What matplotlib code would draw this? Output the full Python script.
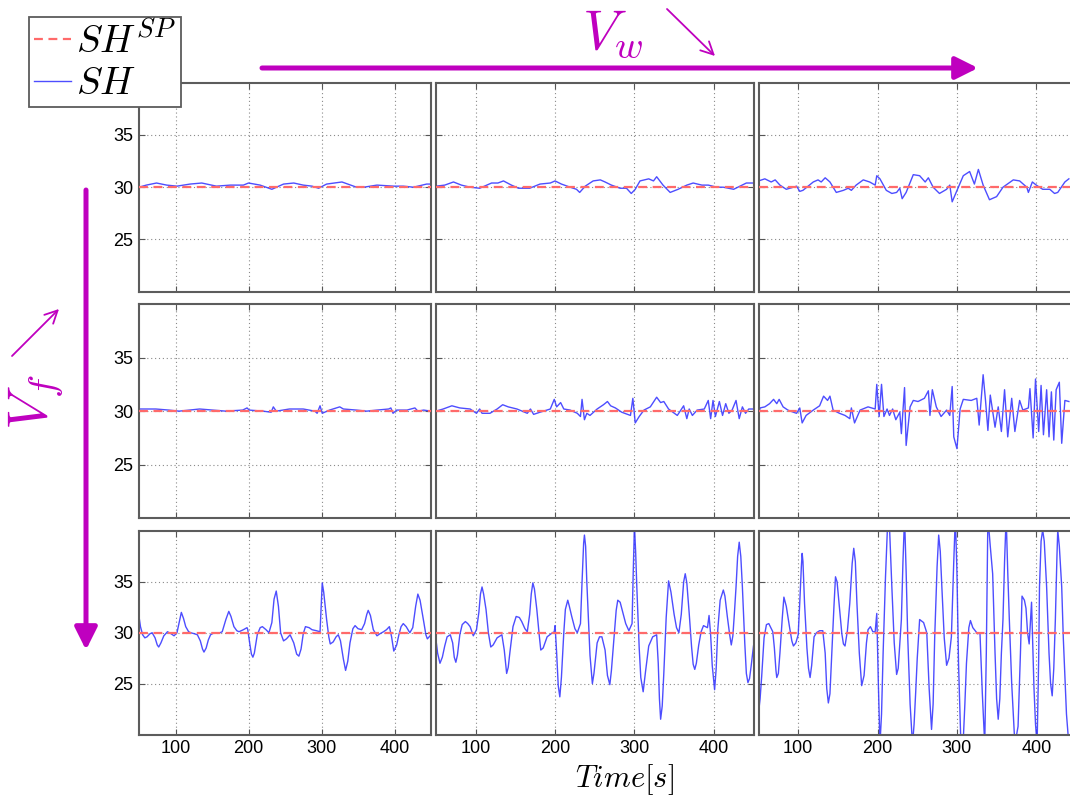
import numpy as np
import matplotlib
matplotlib.use('Agg')
import matplotlib.pyplot as plt

plt.rcParams['mathtext.fontset'] = 'cm'
plt.rcParams['font.family'] = ['Liberation Sans', 'DejaVu Sans']

# set point of superheat
SH_SP = 30.0

# row 0 (lowest V_f), columns from lowest to highest V_w
t_00 = [50, 60, 74, 88, 102, 120, 136, 156, 175, 193, 200, 216, 232, 248, 262, 275, 287, 296, 307, 328,
        348, 358, 376, 399, 412, 426, 444, 450]
sh_00 = [30.0, 30.2, 30.4, 30.2, 30.1, 30.3, 30.4, 30.1, 30.2, 30.2, 30.4, 30.2, 29.8, 30.3, 30.4, 30.2,
         30.1, 29.9, 30.3, 30.5, 30.0, 30.0, 30.2, 30.1, 30.1, 30.0, 30.3, 30.3]

t_01 = [50, 61, 72, 82, 93, 105, 120, 128, 135, 145, 154, 168, 181, 194, 200, 208, 219, 227, 231, 238,
        248, 257, 263, 271, 282, 290, 296, 301, 307, 318, 324, 328, 336, 345, 355, 366, 374, 385, 393, 404,
        412, 425, 433, 441, 449]
sh_01 = [30.1, 30.2, 30.5, 30.2, 30.0, 29.9, 30.4, 30.4, 30.6, 30.2, 29.9, 29.9, 30.3, 30.4, 30.6, 30.3,
         30.0, 29.8, 29.5, 30.1, 30.6, 30.7, 30.5, 30.2, 29.9, 29.9, 29.4, 29.8, 30.6, 30.8, 30.6, 31.0,
         30.2, 29.5, 29.8, 30.2, 30.4, 30.2, 30.2, 30.0, 30.0, 29.8, 30.1, 30.4, 30.4]

t_02 = [50, 58, 66, 71, 77, 85, 94, 98, 102, 106, 119, 125, 129, 134, 140, 148, 157, 163, 167, 173,
        182, 190, 197, 199, 203, 211, 218, 224, 228, 231, 236, 245, 253, 260, 264, 270, 278, 287, 291, 294,
        299, 308, 316, 322, 327, 333, 341, 350, 358, 371, 379, 388, 390, 395, 400, 408, 417, 423, 427, 436, 441]
sh_02 = [30.6, 30.8, 30.5, 30.7, 30.2, 29.8, 30.0, 30.1, 29.6, 29.7, 30.5, 30.7, 30.5, 30.9, 30.5, 29.5,
         29.7, 29.9, 29.7, 30.2, 30.7, 30.5, 30.2, 31.1, 30.8, 29.7, 29.4, 29.5, 29.9, 28.9, 29.5, 31.2,
         31.1, 30.5, 30.9, 30.0, 29.4, 29.8, 30.2, 28.6, 29.5, 31.1, 31.5, 30.3, 31.7, 30.2, 28.8, 29.1,
         30.0, 30.7, 30.6, 30.0, 29.5, 30.5, 30.2, 29.8, 29.8, 29.4, 29.5, 30.5, 30.8]

# row 1
t_10 = [50, 73, 91, 105, 133, 151, 169, 192, 198, 201, 220, 231, 234, 238, 256, 275, 291, 294, 298, 301,
        311, 325, 330, 348, 362, 376, 392, 395, 398, 403, 417, 428, 432, 440, 450]
sh_10 = [30.2, 30.2, 30.1, 30.0, 30.2, 30.1, 30.0, 30.1, 30.3, 30.1, 30.0, 29.9, 30.4, 30.0, 30.2, 30.2,
         30.0, 29.8, 30.5, 29.8, 30.1, 30.4, 30.2, 30.1, 30.0, 30.1, 30.2, 30.3, 29.8, 30.1, 30.1, 30.3,
         30.0, 30.1, 30.0]

t_11 = [50, 59, 70, 80, 93, 101, 105, 108, 118, 127, 134, 141, 152, 165, 169, 173, 181, 194, 199, 202,
        207, 211, 219, 228, 232, 234, 237, 240, 244, 253, 261, 266, 270, 276, 284, 295, 298, 301, 306, 312,
        320, 328, 333, 337, 343, 354, 362, 366, 369, 373, 379, 388, 393, 396, 399, 402, 407, 411, 415, 419,
        423, 428, 432, 436, 440, 444, 449]
sh_11 = [30.0, 30.2, 30.5, 30.3, 30.2, 29.8, 30.2, 29.8, 29.8, 30.2, 30.6, 30.4, 30.2, 29.8, 30.2, 29.7,
         29.9, 30.2, 31.1, 30.4, 30.8, 30.2, 30.1, 29.8, 29.5, 31.1, 29.2, 29.8, 29.6, 30.2, 30.6, 30.9,
         30.5, 30.3, 29.9, 29.6, 31.2, 28.9, 29.5, 30.1, 30.4, 31.3, 30.8, 30.9, 30.2, 29.6, 30.5, 29.3,
         30.2, 29.6, 30.1, 30.2, 31.0, 29.3, 31.0, 29.5, 30.9, 29.6, 30.7, 29.8, 30.1, 31.0, 29.3, 30.4,
         29.8, 30.2, 30.2]

t_12 = [50, 52, 58, 64, 69, 73, 76, 81, 87, 94, 98, 102, 105, 110, 119, 127, 132, 137, 140, 144,
        152, 159, 165, 167, 171, 178, 188, 197, 199, 202, 205, 208, 212, 215, 219, 223, 228, 230, 234, 236,
        241, 245, 251, 259, 264, 266, 269, 274, 280, 287, 291, 294, 296, 300, 304, 308, 318, 325, 328, 333,
        336, 339, 342, 348, 352, 356, 360, 364, 369, 373, 379, 383, 390, 392, 396, 399, 403, 406, 409, 413,
        416, 419, 422, 425, 429, 432, 436, 441]
sh_12 = [29.6, 30.3, 30.4, 30.7, 31.1, 30.7, 31.1, 30.4, 30.1, 29.9, 29.8, 30.3, 28.9, 29.6, 30.1, 30.5,
         31.4, 31.0, 31.4, 30.1, 29.8, 29.6, 29.3, 30.3, 28.9, 30.1, 30.4, 30.2, 32.5, 29.5, 32.5, 29.5,
         30.2, 29.6, 30.2, 29.2, 29.9, 27.9, 32.2, 26.8, 30.4, 31.0, 30.9, 31.2, 31.9, 29.6, 32.0, 30.4,
         29.5, 30.1, 29.6, 32.3, 27.6, 26.5, 30.2, 31.1, 31.0, 31.2, 28.7, 33.4, 31.0, 28.2, 31.5, 28.5,
         30.4, 28.1, 32.0, 27.6, 31.2, 28.1, 31.0, 30.1, 30.3, 32.1, 27.5, 33.0, 28.1, 32.4, 27.8, 32.0,
         27.6, 31.8, 27.3, 32.0, 32.7, 27.0, 31.0, 30.9]

# row 2 (highest V_f)
t_20 = [50, 52, 55, 58, 61, 65, 68, 72, 75, 77, 80, 84, 89, 94, 98, 102, 105, 108, 111, 114,
        118, 121, 126, 130, 134, 137, 139, 142, 145, 148, 153, 157, 161, 164, 169, 173, 176, 180, 184, 187,
        193, 198, 199, 202, 204, 206, 208, 212, 216, 219, 224, 228, 232, 235, 238, 241, 244, 248, 252, 257,
        262, 266, 269, 272, 275, 278, 283, 287, 293, 298, 299.5, 301, 303, 307, 310, 312, 316, 320, 323, 326,
        330, 333, 336, 339, 343, 346, 350, 355, 359, 362, 364, 367, 371, 376, 380, 385, 389, 393, 396, 399,
        403, 406, 409, 412, 416, 421, 425, 429, 432, 435, 440, 443, 445, 450]
sh_20 = [31.6, 30.6, 29.8, 29.5, 29.6, 29.9, 30.0, 29.5, 28.8, 28.6, 29.0, 29.7, 30.1, 29.9, 29.7, 30.0,
         31.0, 32.0, 31.4, 30.6, 30.1, 30.0, 29.9, 29.8, 29.2, 28.4, 28.1, 28.5, 29.3, 29.8, 30.0, 30.0,
         30.0, 30.1, 31.3, 32.1, 31.6, 30.6, 30.2, 30.1, 30.3, 30.5, 30.3, 28.8, 27.9, 27.6, 28.0, 29.8,
         30.5, 30.6, 30.3, 30.0, 31.0, 33.3, 34.1, 32.6, 30.0, 29.2, 29.4, 29.8, 29.0, 27.9, 27.7, 28.4,
         29.9, 30.6, 30.5, 30.3, 30.2, 30.1, 32.5, 34.9, 34.0, 31.3, 29.6, 28.9, 29.1, 29.6, 29.8, 29.2,
         27.4, 26.3, 27.2, 29.0, 30.4, 30.7, 30.4, 30.3, 30.9, 31.8, 32.2, 31.7, 30.3, 29.7, 29.9, 30.1,
         30.3, 30.6, 29.6, 28.2, 28.8, 29.8, 30.6, 30.9, 30.6, 30.0, 30.5, 32.6, 33.8, 33.2, 31.1, 29.8,
         29.4, 29.8]

t_21 = [50, 52, 55, 58, 61, 64, 68, 71, 73, 75, 77, 80, 83, 87, 90, 93, 97, 101, 104, 106,
        108, 110, 113, 116, 119, 122, 127, 133, 136, 139, 141, 143, 147, 151, 155, 158, 162, 165, 168, 170,
        172, 174, 177, 180, 182, 185, 190, 195, 199, 200, 202, 204, 206, 208, 211, 213, 216, 218, 221, 225,
        228, 232, 234, 236, 237, 238.5, 240, 242, 244, 247, 249, 253, 256, 259, 263, 266, 269, 271, 274, 277,
        279, 282, 285, 289, 293, 297, 298.5, 300, 301.5, 303, 306, 308, 311, 314, 318, 323, 328, 330, 331.5, 333,
        335, 337, 340, 343, 346, 350, 353, 356, 359, 362, 364, 366, 369, 372, 374, 376, 378, 381, 384, 387,
        392, 394, 396, 398, 401, 403, 405, 408, 412, 414, 417, 420, 422, 424, 426, 428, 430, 432, 434, 436,
        439, 441, 443, 445, 447, 450]
sh_21 = [29.3, 28.0, 27.0, 27.6, 28.7, 29.6, 29.8, 29.0, 27.6, 27.1, 27.8, 29.8, 30.8, 31.1, 30.9, 30.6,
         29.7, 30.3, 32.0, 33.8, 34.5, 33.8, 32.3, 30.0, 28.6, 28.8, 29.5, 29.8, 28.3, 26.0, 26.6, 28.0,
         30.6, 31.6, 31.5, 31.1, 30.4, 30.1, 31.8, 33.8, 34.9, 34.3, 32.3, 29.8, 28.3, 28.5, 29.6, 29.9,
         30.1, 30.7, 28.0, 24.8, 23.7, 25.6, 30.0, 32.3, 33.2, 32.6, 31.6, 30.4, 30.0, 30.9, 35.0, 38.8,
         39.6, 38.5, 35.0, 31.3, 27.8, 25.0, 26.0, 29.0, 29.6, 29.6, 28.3, 25.8, 24.9, 26.3, 29.3, 32.2,
         33.2, 33.0, 32.1, 30.9, 30.2, 30.9, 36.0, 40.5, 38.0, 34.5, 28.5, 25.6, 24.2, 26.2, 28.7, 29.6,
         29.8, 27.0, 23.5, 21.5, 22.8, 26.0, 31.5, 35.1, 34.0, 31.8, 30.5, 30.0, 31.8, 35.0, 35.8, 34.9,
         31.9, 28.6, 26.9, 26.4, 27.0, 28.8, 30.1, 30.7, 30.5, 31.7, 29.8, 26.8, 24.4, 26.5, 30.3, 33.2,
         34.2, 33.6, 31.6, 29.8, 28.8, 29.7, 32.0, 34.5, 37.5, 38.9, 37.5, 34.5, 29.0, 26.0, 25.1, 25.5,
         26.7, 28.7]

t_22 = [50, 52, 54, 57, 60, 63, 68, 70, 72, 73, 75, 77, 80, 82, 85, 89, 92, 94, 97, 100,
        102, 104, 105, 106, 108, 111, 113, 115, 117, 120, 123, 127, 131, 134, 136, 138, 140, 142, 145, 147,
        149, 152, 155, 157, 159, 162, 165, 168, 170, 172, 174, 177, 180, 183, 186, 188, 191, 194, 197, 199,
        201, 203, 205, 207, 210, 213, 215, 218, 221, 224, 226, 230, 232, 234, 236, 238, 241, 244, 246, 248,
        250, 253, 258, 262, 265, 268, 270, 272, 275, 277, 279, 281, 284, 287, 290, 293, 296, 298, 300, 302,
        305, 308, 310, 312, 315, 317, 320, 322, 326, 329, 332, 335, 337, 339, 342, 345, 348, 350, 352, 354,
        356, 358, 360, 362, 364, 366, 369, 373, 377, 380, 382, 385, 387, 389, 391, 394, 397, 399, 401, 403,
        404, 406, 408, 410, 413, 416, 418, 420, 422, 424, 426, 427, 429, 432, 434, 436, 438, 441]
sh_22 = [22.1, 23.5, 25.7, 29.5, 30.8, 30.9, 30.1, 28.5, 26.3, 25.6, 26.0, 28.0, 31.5, 33.5, 32.6, 30.6,
         29.2, 28.7, 29.0, 29.8, 33.0, 36.5, 37.8, 37.0, 32.9, 28.5, 26.5, 25.6, 26.8, 29.6, 30.0, 30.2,
         30.2, 28.0, 24.5, 23.1, 24.0, 27.4, 32.5, 35.5, 35.0, 32.4, 29.9, 28.9, 28.7, 30.2, 32.9, 36.8,
         38.3, 37.0, 32.9, 28.0, 24.8, 25.8, 29.0, 30.3, 30.6, 30.1, 30.1, 31.9, 25.0, 19.0, 22.0, 28.0,
         35.5, 41.4, 40.5, 34.5, 29.0, 25.9, 26.5, 31.3, 37.0, 41.4, 36.0, 29.6, 23.0, 19.0, 21.0, 24.1,
         27.5, 31.3, 31.0, 30.0, 24.5, 20.5, 23.0, 29.6, 36.5, 39.6, 38.0, 34.5, 29.5, 26.8, 27.5, 29.6,
         37.0, 41.4, 36.0, 27.0, 19.0, 19.5, 23.0, 27.0, 30.5, 31.2, 30.5, 30.3, 29.9, 30.0, 24.0, 19.0,
         28.0, 41.4, 38.5, 35.8, 28.0, 23.5, 21.5, 23.5, 28.0, 31.3, 37.0, 41.4, 36.0, 31.3, 25.0, 19.0,
         20.8, 28.0, 33.6, 33.2, 32.4, 30.0, 28.9, 33.0, 24.7, 21.0, 19.0, 27.5, 34.5, 39.0, 40.1, 39.0,
         34.5, 28.0, 25.0, 23.8, 26.5, 31.3, 37.5, 40.1, 38.5, 34.5, 29.5, 25.7, 22.0, 19.0]

times = [[t_00, t_01, t_02], [t_10, t_11, t_12], [t_20, t_21, t_22]]
shs = [[sh_00, sh_01, sh_02], [sh_10, sh_11, sh_12], [sh_20, sh_21, sh_22]]

x_ticks = [100, 200, 300, 400]
y_ticks = [25, 30, 35]

W, H = 1070., 800.
fig = plt.figure(figsize=(10.7, 8), dpi=100)

# panel edges in pixels (left, right) and (top, bottom)
cols = [(139, 431), (436, 753.5), (758.5, 1076)]
rows = [(82.7, 291.7), (304, 518.3), (531, 734.5)]

magenta = '#bf00bf'
handles = None
for i, (top, bot) in enumerate(rows):
    for j, (left, right) in enumerate(cols):
        ax = fig.add_axes([left / W, 1 - bot / H, (right - left) / W, (bot - top) / H])
        sp, = ax.plot([50, 450], [SH_SP, SH_SP], color='#ff6a6a', lw=1.6, ls=(0, (4, 2.5)), zorder=3)
        sh, = ax.plot(times[i][j], shs[i][j], color='#3a3aff', lw=1.0, alpha=0.9, zorder=2)
        if handles is None:
            handles = [sp, sh]
        ax.set_xlim(50, 450)
        ax.set_ylim(20, 40)
        ax.set_xticks(x_ticks)
        ax.set_yticks(y_ticks)
        ax.grid(True, color='#8a8a8a', lw=0.8, ls=(0, (1, 2.5)))
        ax.tick_params(direction='in', length=4, width=0.8, color='#555555', top=True, right=True,
                       labelsize=13, pad=4)
        if i != 2:
            ax.set_xticklabels([])
        if j != 0:
            ax.set_yticklabels([])
        for s in ax.spines.values():
            s.set_color('#5c5c5c')
            s.set_linewidth(1.5)

# overlay in pixel coordinates for the annotations
ov = fig.add_axes([0, 0, 1, 1], zorder=10)
ov.set_xlim(0, W)
ov.set_ylim(H, 0)
ov.axis('off')
ov.patch.set_alpha(0)

ov.annotate('', xy=(978, 68), xytext=(262, 68),
            arrowprops=dict(arrowstyle='-|>,head_length=0.9,head_width=0.45', lw=3.6, color=magenta,
                            mutation_scale=15, shrinkA=0, shrinkB=0))
ov.annotate('', xy=(86, 650), xytext=(86, 190),
            arrowprops=dict(arrowstyle='-|>,head_length=0.9,head_width=0.45', lw=3.6, color=magenta,
                            mutation_scale=15, shrinkA=0, shrinkB=0))

ov.text(582, 49, r'$V_w$', color=magenta, fontsize=40, ha='left', va='baseline')
ov.annotate('', xy=(715, 56), xytext=(667, 9),
            arrowprops=dict(arrowstyle='->,head_length=0.6,head_width=0.3', lw=1.3, color=magenta,
                            mutation_scale=15, shrinkA=0, shrinkB=0))

ov.text(36, 402, r'$V_f$', color=magenta, fontsize=40, rotation=90, ha='center', va='center')
ov.annotate('', xy=(59, 309), xytext=(12, 356),
            arrowprops=dict(arrowstyle='->,head_length=0.6,head_width=0.3', lw=1.3, color=magenta,
                            mutation_scale=15, shrinkA=0, shrinkB=0))

ov.text(625, 780, r'$Time[s]$', fontsize=22, ha='center', va='center')

leg = fig.legend(handles, [r'$SH^{SP}$', r'$SH$'], loc='upper left',
                 bbox_to_anchor=(29 / W, 1 - 17 / H), fontsize=28, handlelength=0.95,
                 handletextpad=0.15, labelspacing=0.15, borderpad=0.12, borderaxespad=0,
                 fancybox=False, framealpha=1)
leg.get_frame().set_edgecolor('#5c5c5c')
leg.get_frame().set_linewidth(1.3)
leg.set_zorder(20)

fig.savefig('out.png', dpi=100)
